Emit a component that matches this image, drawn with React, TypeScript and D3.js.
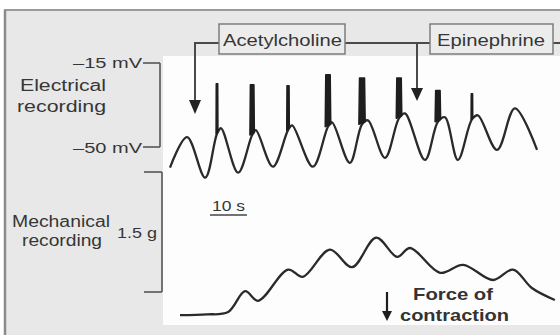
import React from "react";
import * as d3 from "d3";

// Electrical slow wave (time s, membrane potential mV)
const elecT = [0, 4.6, 9.5, 12.7, 13.8, 18.4, 22.2, 23.2, 27.8, 31.9, 33.0, 38.6, 42.7, 43.8, 48.6, 51.9, 53.5, 58.1, 61.9, 63.5, 68.9, 72.4, 74.3, 77.8, 81.6, 83.2, 88.4, 93.2, 99.2];
const elecV = [-58.6, -45.9, -62.8, -44.5, -42.2, -60.7, -45, -43, -58.2, -43, -41, -58.2, -41.5, -39.7, -56.6, -40.5, -38.9, -54.5, -38, -36, -55.4, -39.5, -37.6, -55.4, -38.5, -36.8, -51.2, -33.9, -51.2];

// Action-potential spikes on the plateaus
const spikeT = [12.7, 22.2, 31.9, 42.7, 51.9, 61.9, 72.4, 81.6];
const spikeTop = [-23.6, -24.1, -24.5, -19.9, -21.2, -21.2, -26.5, -27.8];
const spikeBase = [-44.5, -45, -43, -41.5, -40.5, -38, -39.5, -38.5];
const spikeW = [0.5, 1.2, 0.7, 1.5, 1.7, 1.5, 1.5, 0.45];

// Mechanical recording (time s, force g)
const mechT = [2.7, 10, 15.7, 20.3, 23.8, 31.9, 35.9, 43.2, 49.2, 55.7, 61.4, 64.9, 73, 79.2, 87.3, 92.7, 97.8, 104];
const mechF = [-0.29, -0.28, -0.25, 0.01, -0.11, 0.28, 0.19, 0.53, 0.31, 0.68, 0.44, 0.55, 0.24, 0.34, 0.15, 0.28, 0.05, -0.1];

const mvTicks = ["\u201315 mV", "\u201350 mV"];
const mvTickVals = [-15, -50];
const forceLabel = "1.5 g";
const timeBar = [10.8, 20.8];

const FONT = "'Liberation Sans', Arial, sans-serif";
const INK = "#2a2a2a";
const TXT = "#363636";

export default function App() {
  const x = d3.scaleLinear().domain([0, 100]).range([170, 540]);
  const yE = d3.scaleLinear().domain([-50, -15]).range([147, 63]);
  const yM = d3.scaleLinear().domain([0, 1.5]).range([292, 172]);

  const elecLine = d3
    .line<number>()
    .x((_, i) => x(elecT[i]))
    .y((v) => yE(v))
    .curve(d3.curveCatmullRom.alpha(0.5));
  const mechLine = d3
    .line<number>()
    .x((_, i) => x(mechT[i]))
    .y((v) => yM(v))
    .curve(d3.curveCatmullRom.alpha(0.5));
  const poly = d3.line<[number, number]>().x((d) => x(d[0])).y((d) => yE(d[1]));

  const spikes = spikeT.map((t, i) => {
    const w = spikeW[i];
    const pts: [number, number][] = [
      [t - w / 2, spikeBase[i]],
      [t - w * 0.4, spikeTop[i]],
      [t + w * 0.4, spikeTop[i]],
      [t + w / 2, spikeBase[i] + 1],
    ];
    return poly(pts) + "Z";
  });

  const tri = (cx: number, y0: number, y1: number, hw: number) =>
    `M${cx - hw},${y0}L${cx + hw},${y0}L${cx},${y1}Z`;

  return (
    <svg
      width={560}
      height={335}
      style={{ position: "absolute", left: 0, top: 0, background: "#ffffff" }}
      fontFamily={FONT}
    >
      {/* panel backgrounds */}
      <rect x={5} y={10} width={555} height={325} fill="#e8e8e8" />
      <rect x={163} y={56} width={397} height={269} fill="#fdfdfd" />
      <line x1={4} y1={10} x2={560} y2={10} stroke="#9a9a9a" strokeWidth={2} />
      <line x1={5} y1={10} x2={5} y2={335} stroke="#8a8a8a" strokeWidth={2.5} />

      {/* header: drug annotations */}
      <g stroke="#4a4a4a" strokeWidth={2} fill="none">
        <line x1={195} y1={43} x2={219} y2={43} />
        <line x1={195} y1={42} x2={195} y2={101} />
        <line x1={345} y1={43} x2={430} y2={43} />
        <line x1={417} y1={43} x2={417} y2={89} />
        <line x1={553} y1={43} x2={560} y2={43} />
      </g>
      <path d={tri(195, 100, 114, 6)} fill="#222" />
      <path d={tri(417, 88, 101, 6)} fill="#222" />
      <rect x={219} y={24} width={126} height={30} fill="#ececec" stroke="#7d7d7d" strokeWidth={1.5} />
      <rect x={430} y={24} width={123} height={30} fill="#ececec" stroke="#7d7d7d" strokeWidth={1.5} />
      <text x={223} y={46} fontSize={17} fill={TXT} textLength={119} lengthAdjust="spacingAndGlyphs">
        Acetylcholine
      </text>
      <text x={437} y={46} fontSize={17} fill={TXT} textLength={108} lengthAdjust="spacingAndGlyphs">
        Epinephrine
      </text>

      {/* electrical scale bracket */}
      <g stroke="#555" strokeWidth={1.6} fill="none">
        <line x1={143} y1={yE(mvTickVals[0])} x2={160} y2={yE(mvTickVals[0])} />
        <line x1={143} y1={yE(mvTickVals[1])} x2={160} y2={yE(mvTickVals[1])} />
        <line x1={160} y1={yE(mvTickVals[0])} x2={160} y2={yE(mvTickVals[1])} />
      </g>
      <text x={73} y={yE(mvTickVals[0]) + 5} fontSize={15} fill={TXT} textLength={69} lengthAdjust="spacingAndGlyphs">
        {mvTicks[0]}
      </text>
      <text x={73} y={yE(mvTickVals[1]) + 6} fontSize={15} fill={TXT} textLength={69} lengthAdjust="spacingAndGlyphs">
        {mvTicks[1]}
      </text>
      <text x={20} y={91} fontSize={16} fill={TXT} textLength={86} lengthAdjust="spacingAndGlyphs">
        Electrical
      </text>
      <text x={17} y={112} fontSize={16} fill={TXT} textLength={89} lengthAdjust="spacingAndGlyphs">
        recording
      </text>

      {/* mechanical scale bracket */}
      <g stroke="#555" strokeWidth={1.6} fill="none">
        <line x1={144} y1={yM(1.5)} x2={162} y2={yM(1.5)} />
        <line x1={144} y1={yM(0)} x2={162} y2={yM(0)} />
        <line x1={162} y1={yM(1.5)} x2={162} y2={yM(0)} />
      </g>
      <text x={117} y={238} fontSize={14} fill={TXT} textLength={40} lengthAdjust="spacingAndGlyphs">
        {forceLabel}
      </text>
      <text x={12} y={227} fontSize={16} fill={TXT} textLength={98} lengthAdjust="spacingAndGlyphs">
        Mechanical
      </text>
      <text x={22} y={246} fontSize={16} fill={TXT} textLength={80} lengthAdjust="spacingAndGlyphs">
        recording
      </text>

      {/* time scale bar */}
      <text
        x={(x(timeBar[0]) + x(timeBar[1])) / 2}
        y={211}
        fontSize={15}
        fill={TXT}
        textAnchor="middle"
        textLength={33}
        lengthAdjust="spacingAndGlyphs"
      >
        10 s
      </text>
      <line x1={x(timeBar[0])} y1={215} x2={x(timeBar[1])} y2={215} stroke="#444" strokeWidth={1.3} />

      {/* traces */}
      <path d={elecLine(elecV) || ""} fill="none" stroke={INK} strokeWidth={2.3} strokeLinejoin="round" />
      {spikes.map((d, i) => (
        <path key={i} d={d} fill="#1e1e1e" stroke="#1e1e1e" strokeWidth={1.5} strokeLinejoin="round" />
      ))}
      <path d={mechLine(mechF) || ""} fill="none" stroke={INK} strokeWidth={2.3} strokeLinejoin="round" />

      {/* force of contraction */}
      <line x1={387} y1={292} x2={387} y2={313} stroke="#1e1e1e" strokeWidth={2.2} />
      <path d={tri(387, 311, 321, 5)} fill="#1e1e1e" />
      <text x={413} y={300} fontSize={17} fontWeight="bold" fill="#333" textLength={80} lengthAdjust="spacingAndGlyphs">
        Force of
      </text>
      <text x={400} y={321} fontSize={17} fontWeight="bold" fill="#333" textLength={109} lengthAdjust="spacingAndGlyphs">
        contraction
      </text>
    </svg>
  );
}
